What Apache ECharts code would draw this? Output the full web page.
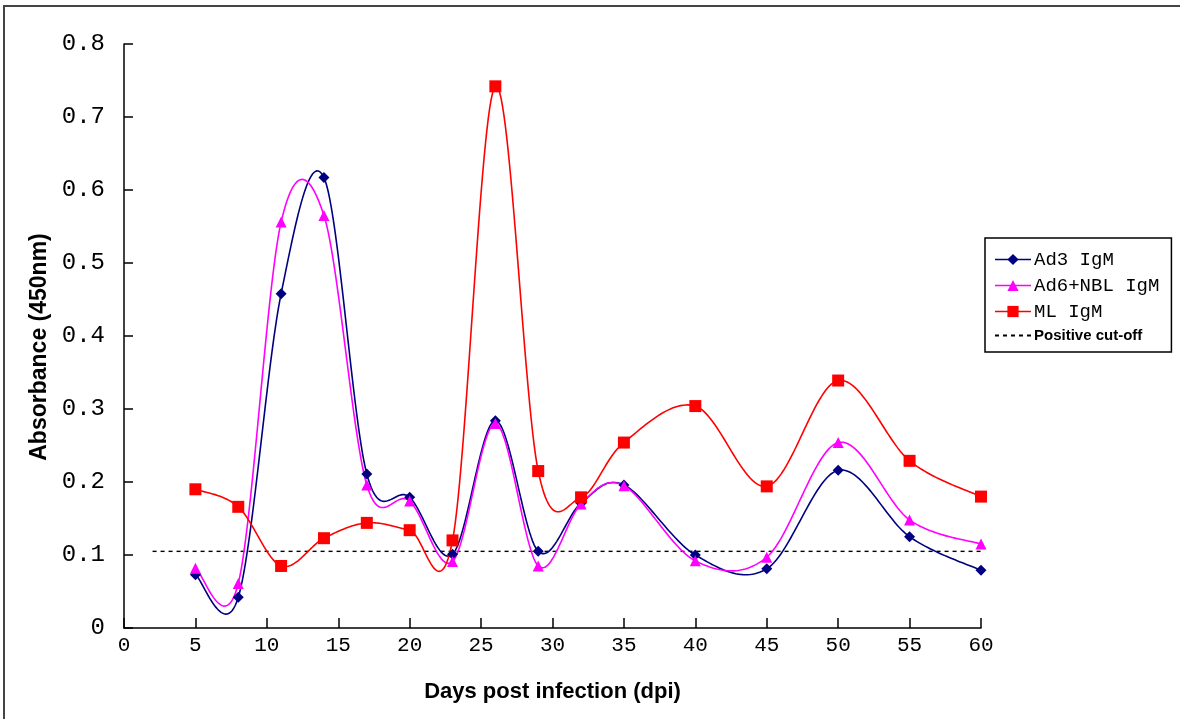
<!DOCTYPE html>
<html>
<head>
<meta charset="utf-8">
<script src="https://cdn.jsdelivr.net/npm/echarts@6/dist/echarts.min.js"></script>
<style>
html,body{margin:0;padding:0;background:#fff;}
#chart{width:1180px;height:719px;}
</style>
</head>
<body>
<div id="chart"></div>
<script>
// ---- data ----
const days = [5, 8, 11, 14, 17, 20, 23, 26, 29, 32, 35, 40, 45, 50, 55, 60];
const ad3IgM = [0.073, 0.042, 0.458, 0.617, 0.211, 0.179, 0.101, 0.284, 0.105, 0.171, 0.196, 0.100, 0.081, 0.216, 0.125, 0.079];
const ad6NblIgM = [0.082, 0.061, 0.556, 0.565, 0.196, 0.174, 0.091, 0.280, 0.085, 0.170, 0.195, 0.092, 0.097, 0.254, 0.148, 0.115];
const mlIgM = [0.190, 0.166, 0.085, 0.123, 0.144, 0.134, 0.120, 0.742, 0.215, 0.179, 0.254, 0.304, 0.194, 0.339, 0.229, 0.180];
const cutoffValue = 0.105;
const cutoffRange = [2, 60];
const seriesNames = ['Ad3 IgM', 'Ad6+NBL IgM', 'ML IgM', 'Positive cut-off'];
const yTitle = 'Absorbance (450nm)';
const xTitle = 'Days post infection (dpi)';

const chart = echarts.init(document.getElementById('chart'));

function pairs(vals) { return days.map((d, i) => [d, vals[i]]); }

// Excel-like smoothed curve (Catmull-Rom / cubic Bezier in pixel space)
function curveSeries(vals, color) {
  return {
    type: 'custom',
    name: '_curve_' + color,
    silent: true,
    z: 2,
    data: [[days[0], vals[0]]],
    renderItem: function (params, api) {
      const pts = days.map((d, i) => api.coord([d, vals[i]]));
      const out = [];
      const n = pts.length;
      for (let i = 0; i < n - 1; i++) {
        const p0 = pts[Math.max(i - 1, 0)], p1 = pts[i], p2 = pts[i + 1], p3 = pts[Math.min(i + 2, n - 1)];
        const c1 = [p1[0] + (p2[0] - p0[0]) / 6, p1[1] + (p2[1] - p0[1]) / 6];
        const c2 = [p2[0] - (p3[0] - p1[0]) / 6, p2[1] - (p3[1] - p1[1]) / 6];
        const steps = 30;
        for (let s = 0; s < steps; s++) {
          const t = s / steps, u = 1 - t;
          out.push([
            u * u * u * p1[0] + 3 * u * u * t * c1[0] + 3 * u * t * t * c2[0] + t * t * t * p2[0],
            u * u * u * p1[1] + 3 * u * u * t * c1[1] + 3 * u * t * t * c2[1] + t * t * t * p2[1]
          ]);
        }
      }
      out.push(pts[n - 1]);
      return {
        type: 'polyline',
        shape: { points: out },
        style: { stroke: color, lineWidth: 1.6, fill: null }
      };
    }
  };
}

function markerSeries(name, vals, color, symbol, size) {
  return {
    type: 'line',
    name: name,
    data: pairs(vals),
    symbol: symbol,
    symbolSize: size,
    showSymbol: true,
    z: 3,
    itemStyle: { color: color, borderWidth: 0 },
    lineStyle: { color: color, opacity: 0, width: 1.5 },
    emphasis: { disabled: true }
  };
}

const monoFont = "'Liberation Mono', 'DejaVu Sans Mono', monospace";
const titleFont = "'Liberation Sans Narrow', 'Liberation Sans', Arial, sans-serif";

const option = {
  animation: false,
  backgroundColor: '#ffffff',
  grid: { left: 124, right: 199, top: 44, bottom: 91, containLabel: false },
  xAxis: {
    type: 'value',
    min: 0, max: 60, interval: 5,
    name: xTitle,
    nameLocation: 'middle',
    nameGap: 53,
    nameTextStyle: { fontFamily: titleFont, fontWeight: 'bold', fontSize: 22, color: '#000' },
    axisLine: { lineStyle: { color: '#000', width: 1.5 } },
    axisTick: { show: true, inside: true, length: 10, lineStyle: { color: '#000', width: 1.5 } },
    axisLabel: { fontFamily: monoFont, fontSize: 21, color: '#000', margin: 7 },
    splitLine: { show: false }
  },
  yAxis: {
    type: 'value',
    min: 0, max: 0.8, interval: 0.1,
    axisLine: { show: true, lineStyle: { color: '#000', width: 1.5 } },
    axisTick: { show: true, inside: true, length: 9, lineStyle: { color: '#000', width: 1.5 } },
    axisLabel: {
      fontFamily: monoFont, fontSize: 24, color: '#000', margin: 19,
      formatter: v => (v === 0 ? '0' : v.toFixed(1))
    },
    splitLine: { show: false }
  },
  legend: {
    orient: 'vertical',
    left: 985, top: 238,
    padding: [12, 12, 9, 9],
    backgroundColor: '#fff',
    borderColor: '#000',
    borderWidth: 1.5,
    itemWidth: 36,
    itemHeight: 14,
    itemGap: 7,
    data: [
      { name: seriesNames[0], lineStyle: { opacity: 1, color: '#000080', width: 1.5 } },
      { name: seriesNames[1], lineStyle: { opacity: 1, color: '#FF00FF', width: 1.5 } },
      { name: seriesNames[2], lineStyle: { opacity: 1, color: '#FF0000', width: 1.5 } },
      { name: seriesNames[3], itemStyle: { opacity: 0 } }
    ],
    formatter: function (name) {
      return name === 'Positive cut-off' ? '{b|' + name + '}' : '{m|' + name + '}';
    },
    textStyle: {
      padding: [0, 0, 0, -2],
      rich: {
        m: { fontFamily: monoFont, fontSize: 19, color: '#000', lineHeight: 20 },
        b: { fontFamily: titleFont, fontWeight: 'bold', fontSize: 15, color: '#000', lineHeight: 20 }
      }
    }
  },
  graphic: [
    { type: 'line', shape: { x1: 3, y1: 6, x2: 1180, y2: 6 }, style: { stroke: '#444', lineWidth: 2 }, silent: true },
    { type: 'line', shape: { x1: 4, y1: 6, x2: 4, y2: 719 }, style: { stroke: '#444', lineWidth: 2 }, silent: true },
    {
      type: 'text', x: 40, y: 347, rotation: Math.PI / 2, silent: true,
      style: {
        text: yTitle, fontFamily: titleFont, fontWeight: 'bold', fontSize: 23, fill: '#000',
        align: 'center', verticalAlign: 'middle'
      }
    }
  ],
  series: [
    markerSeries(seriesNames[0], ad3IgM, '#000080', 'diamond', 11),
    markerSeries(seriesNames[1], ad6NblIgM, '#FF00FF', 'triangle', 11),
    markerSeries(seriesNames[2], mlIgM, '#FF0000', 'rect', 12),
    {
      type: 'line',
      name: seriesNames[3],
      data: [[cutoffRange[0], cutoffValue], [cutoffRange[1], cutoffValue]],
      symbol: 'none',
      z: 1,
      lineStyle: { color: '#000', width: 1.4, type: [4, 4] },
      itemStyle: { color: '#000' },
      emphasis: { disabled: true }
    },
    curveSeries(ad3IgM, '#000080'),
    curveSeries(ad6NblIgM, '#FF00FF'),
    curveSeries(mlIgM, '#FF0000')
  ]
};
chart.setOption(option);
</script>
</body>
</html>
